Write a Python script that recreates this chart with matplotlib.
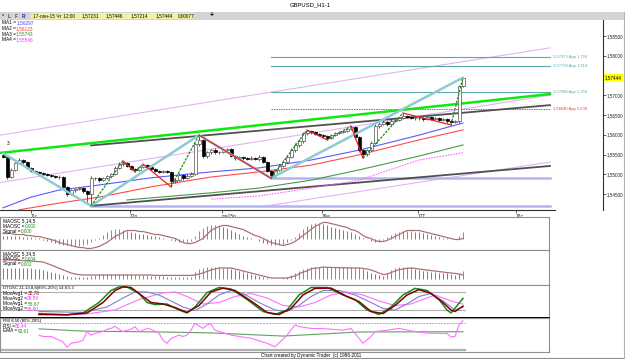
import numpy as np
import matplotlib.pyplot as plt
from matplotlib.patches import Rectangle
from matplotlib.lines import Line2D

plt.rcParams['font.family'] = ['Liberation Sans', 'DejaVu Sans']

W, H = 625, 359

# ---------------- price data, GBPUSD H1, bars 0..115 ----------------
first_open = 1.5549
closes = [1.5544, 1.5493, 1.5511, 1.5528, 1.5536, 1.5531, 1.5516, 1.5508, 1.5506, 1.5503,
          1.5501, 1.5498, 1.5496, 1.5493, 1.5493, 1.5468, 1.5450, 1.5460, 1.5463, 1.5465,
          1.5458, 1.5450, 1.5490, 1.5490, 1.5485, 1.5490, 1.5496, 1.5501, 1.5516, 1.5526,
          1.5528, 1.5521, 1.5513, 1.5511, 1.5518, 1.5523, 1.5518, 1.5513, 1.5508, 1.5506,
          1.5508, 1.5506, 1.5483, 1.5485, 1.5498, 1.5490, 1.5496, 1.5501, 1.5577, 1.5587,
          1.5546, 1.5556, 1.5561, 1.5556, 1.5556, 1.5561, 1.5564, 1.5546, 1.5541, 1.5544,
          1.5541, 1.5539, 1.5541, 1.5539, 1.5544, 1.5531, 1.5508, 1.5498, 1.5511, 1.5521,
          1.5531, 1.5544, 1.5561, 1.5574, 1.5584, 1.5604, 1.5610, 1.5607, 1.5602, 1.5599,
          1.5597, 1.5592, 1.5599, 1.5604, 1.5607, 1.5610, 1.5615, 1.5620, 1.5594, 1.5561,
          1.5551, 1.5561, 1.5579, 1.5622, 1.5627, 1.5632, 1.5627, 1.5635, 1.5637, 1.5642,
          1.5648, 1.5645, 1.5642, 1.5642, 1.5642, 1.5640, 1.5645, 1.5640, 1.5642, 1.5637,
          1.5640, 1.5635, 1.5632, 1.5635, 1.57231, 1.57444]
highs = [1.5553, 1.5547, 1.5515, 1.5532, 1.5540, 1.5539, 1.5533, 1.5519, 1.5511, 1.5509,
         1.5506, 1.5504, 1.5501, 1.5499, 1.5497, 1.5495, 1.5470, 1.5463, 1.5466, 1.5468,
         1.5467, 1.5460, 1.5496, 1.5494, 1.5493, 1.5493, 1.5499, 1.5504, 1.5520, 1.5530,
         1.5534, 1.5531, 1.5523, 1.5516, 1.5521, 1.5526, 1.5526, 1.5520, 1.5516, 1.5511,
         1.5511, 1.5510, 1.5508, 1.5490, 1.5502, 1.5500, 1.5500, 1.5506, 1.5580, 1.5599,
         1.5590, 1.5560, 1.5565, 1.5566, 1.5560, 1.5564, 1.5567, 1.5566, 1.5549, 1.5547,
         1.5547, 1.5544, 1.5545, 1.5544, 1.5549, 1.5547, 1.5534, 1.5510, 1.5514, 1.5525,
         1.5535, 1.5548, 1.5566, 1.5578, 1.5588, 1.5608, 1.5612, 1.5611, 1.5609, 1.5605,
         1.5601, 1.5599, 1.5602, 1.5607, 1.5610, 1.5613, 1.5618, 1.5622, 1.5621, 1.5597,
         1.5564, 1.5565, 1.5583, 1.5626, 1.5632, 1.5637, 1.5636, 1.5639, 1.5641, 1.5646,
         1.5655, 1.5651, 1.5648, 1.5646, 1.5646, 1.5645, 1.5648, 1.5648, 1.5645, 1.5644,
         1.5643, 1.5642, 1.5638, 1.5638, 1.5725, 1.57446]
lows = [1.5540, 1.5488, 1.5490, 1.5508, 1.5525, 1.5527, 1.5513, 1.5505, 1.5503, 1.5500,
        1.5498, 1.5495, 1.5493, 1.5490, 1.5489, 1.5465, 1.5444, 1.5447, 1.5456, 1.5459,
        1.5452, 1.5431, 1.5420, 1.5485, 1.5481, 1.5482, 1.5487, 1.5493, 1.5498, 1.5513,
        1.5522, 1.5518, 1.5510, 1.5506, 1.5508, 1.5515, 1.5515, 1.5510, 1.5505, 1.5502,
        1.5503, 1.5502, 1.5468, 1.5478, 1.5482, 1.5486, 1.5487, 1.5493, 1.5498, 1.5572,
        1.5541, 1.5542, 1.5552, 1.5552, 1.5551, 1.5553, 1.5558, 1.5543, 1.5537, 1.5538,
        1.5537, 1.5535, 1.5536, 1.5535, 1.5533, 1.5528, 1.5505, 1.5490, 1.5494, 1.5507,
        1.5518, 1.5528, 1.5540, 1.5557, 1.5570, 1.5580, 1.5600, 1.5603, 1.5599, 1.5596,
        1.5593, 1.5587, 1.5589, 1.5596, 1.5601, 1.5604, 1.5607, 1.5612, 1.5590, 1.5556,
        1.5541, 1.5547, 1.5558, 1.5576, 1.5618, 1.5624, 1.5623, 1.5624, 1.5632, 1.5634,
        1.5639, 1.5642, 1.5639, 1.5638, 1.5638, 1.5636, 1.5637, 1.5637, 1.5637, 1.5634,
        1.5634, 1.5631, 1.5625, 1.5629, 1.5630, 1.57214]
opens = [first_open] + closes[:-1]

# moving averages (read at a few bars)
ma1_bar = [0, 7, 14, 22, 37, 52, 64, 77, 89, 104, 115]
ma1_val = [1.5415, 1.5442, 1.5460, 1.5470, 1.5491, 1.5506, 1.5516, 1.5536, 1.5561, 1.5599, 1.56297]
ma2_bar = [4, 14, 24, 37, 52, 64, 77, 89, 104, 115]
ma2_val = [1.5410, 1.5427, 1.5442, 1.5468, 1.5493, 1.5506, 1.5523, 1.5549, 1.5587, 1.56123]
ma3_bar = [31, 52, 64, 77, 89, 104, 115]
ma3_val = [1.5435, 1.5453, 1.5465, 1.5485, 1.5511, 1.5546, 1.55743]
ma4_bar = [52, 64, 77, 89, 104, 115]
ma4_val = [1.5437, 1.5445, 1.5465, 1.5485, 1.5536, 1.55546]

# swing pivots
big_zz_bar = [0, 22, 49, 67, 115]
big_zz_val = [1.5553, 1.5420, 1.5599, 1.5490, 1.57446]
small_zz_bar = [22, 30, 33, 35, 42, 49, 67, 76, 81, 87, 90, 100, 112, 115]
small_zz_val = [1.5420, 1.5534, 1.5506, 1.5526, 1.5468, 1.5599, 1.5490, 1.5612,
                1.5587, 1.5622, 1.5541, 1.5655, 1.5625, 1.57446]

# trend / channel lines: (bar0, bar1), (price0, price1)
green_line = ((-0.75, 136.75), (1.5554, 1.5703))
gray_upper = ((22, 136.75), (1.5573, 1.5675))
gray_lower = ((22, 136.75), (1.5420, 1.5521))
pink_top = ((-0.75, 136.75), (1.5599, 1.5820))
pink_mid = ((-0.75, 136.75), (1.5479, 1.5700))
pink_low = ((64, 136.75), (1.5417, 1.5531))
support_lvls = [1.5420, 1.5490]
support_from = [22, 67]

# price projections
proj_val = [1.57973, 1.57739, 1.57088, 1.56645]
proj_txt = ['1,57973 App 1,750', '1,57739 App 1,618', '1,57088 App 1,250', '1,56645 App 1,000']

price_ticks = [1.545, 1.550, 1.555, 1.560, 1.565, 1.570, 1.575, 1.580, 1.585]
last_price = 1.57444
date_pos = [7.0, 31.75, 54.75, 79.75, 103.75, 128.25]
date_lbl = ['11r', '12p', 'ma15p', '16w', '17T', '18c']

# ---------------- MAOSC 5,14,5 (units 0.0001) ----------------
osc1_hist = [9, 9, 9, 9, 9, 6, 6, 6, 3, 3,
             -3, -6, -9, -12, -15, -18, -18, -21, -21, -21,
             -18, -15, -9, -3, 3, 12, 21, 27, 30, 30,
             27, 24, 21, 18, 15, 15, 12, 9, 9, 6,
             3, 0, -3, -6, -9, -9, -9, -6, 9, 24,
             33, 39, 42, 42, 39, 36, 33, 27, 21, 15,
             9, 6, 3, 0, -6, -12, -15, -18, -18, -18,
             -15, -9, -3, 6, 18, 30, 39, 45, 48, 48,
             45, 42, 36, 33, 30, 27, 24, 21, 15, 9,
             3, 0, -6, -9, -9, -3, 6, 12, 18, 21,
             24, 24, 24, 21, 21, 18, 15, 12, 9, 6,
             3, 3, 0, 0, 9, 21]
osc1_sig = [15, 15, 15, 12, 12, 12, 9, 9, 6, 6,
            3, 0, -3, -6, -12, -15, -18, -21, -24, -27,
            -27, -30, -30, -27, -24, -18, -12, -3, 6, 12,
            18, 24, 24, 24, 21, 21, 18, 15, 12, 12,
            9, 6, 3, 0, -6, -12, -15, -15, -12, -6,
            0, 12, 24, 30, 36, 39, 39, 36, 33, 30,
            27, 21, 15, 9, 6, 0, -6, -12, -15, -18,
            -21, -18, -15, -9, 0, 9, 18, 27, 36, 42,
            48, 48, 45, 42, 39, 36, 33, 27, 24, 18,
            9, 3, 0, -6, -9, -9, -6, 0, 6, 12,
            18, 24, 24, 24, 24, 21, 18, 15, 12, 9,
            6, 3, 0, -3, -3, 0]

# ---------------- MAOSC 5,34,5 (units 0.0001) ----------------
osc2_hist = [55, 55, 55, 55, 55, 55, 55, 55, 50, 50,
             45, 40, 35, 30, 25, 20, 15, 10, 10, 10,
             10, 10, 15, 20, 25, 25, 25, 25, 25, 25,
             25, 25, 25, 20, 20, 20, 20, 15, 15, 15,
             15, 10, 10, 10, 10, 10, 10, 10, 35, 50,
             55, 60, 60, 60, 60, 55, 55, 50, 45, 40,
             35, 30, 25, 20, 15, 10, 5, 0, 0, 0,
             5, 10, 20, 30, 40, 50, 55, 60, 60, 60,
             60, 62, 62, 62, 62, 62, 60, 60, 60, 58,
             50, 40, 30, 25, 18, 15, 30, 45, 55, 60,
             62, 62, 62, 50, 46, 42, 40, 37, 34, 32,
             30, 28, 25, 22, 24, 40]
osc2_sig = [95, 95, 95, 94, 93, 92, 91, 90, 88, 87,
            85, 78, 70, 62, 54, 46, 38, 30, 25, 22,
            20, 20, 20, 20, 20, 20, 20, 20, 20, 20,
            20, 20, 20, 20, 20, 20, 20, 20, 18, 18,
            18, 18, 18, 18, 18, 18, 18, 18, 20, 25,
            30, 38, 45, 50, 55, 55, 55, 55, 50, 45,
            40, 35, 30, 25, 20, 15, 10, 5, 5, 5,
            5, 5, 10, 15, 25, 35, 40, 50, 55, 55,
            60, 58, 58, 57, 57, 56, 56, 55, 55, 55,
            53, 50, 45, 38, 30, 22, 25, 32, 40, 46,
            50, 53, 55, 53, 50, 47, 45, 42, 40, 37,
            35, 32, 30, 28, 25, 20]

# ---------------- DTOSC (percent) ----------------
fast1_bar = [9, 16, 20, 24, 27, 29, 31, 34, 36, 38, 41, 44, 46, 48, 51, 54, 57, 61, 65, 68,
             71, 74, 77, 81, 85, 88, 91, 94, 97, 100, 103, 106, 109, 111, 112, 115]
fast1_val = [8, 4, 10, 45, 85, 97, 97, 75, 45, 38, 40, 20, 10, 30, 78, 95, 90, 55, 15, 5,
             20, 70, 95, 95, 70, 55, 20, 5, 30, 70, 92, 85, 55, 20, 10, 58.67]
fast2_bar = [9, 16, 21, 25, 28, 30, 32, 35, 37, 40, 43, 46, 49, 52, 55, 58, 62, 66, 69, 72,
             75, 78, 82, 86, 89, 92, 95, 98, 101, 104, 107, 110, 112, 113, 115]
fast2_val = [5, 4, 10, 45, 85, 97, 95, 65, 45, 40, 28, 12, 35, 80, 93, 85, 50, 12, 5, 25,
             70, 92, 93, 65, 48, 15, 8, 35, 70, 88, 75, 45, 20, 15, 32.78]
slow1_bar = [9, 20, 26, 30, 33, 36, 39, 42, 45, 48, 51, 54, 57, 60, 64, 68, 71, 74, 77, 80,
             84, 88, 92, 95, 98, 101, 104, 107, 110, 113, 115]
slow1_val = [15, 12, 30, 60, 80, 80, 70, 50, 30, 18, 40, 70, 85, 75, 45, 20, 15, 35, 65, 85,
             85, 70, 45, 25, 20, 40, 65, 75, 50, 20, 29.59]
slow2_bar = [9, 20, 28, 34, 40, 43, 46, 50, 54, 58, 62, 66, 70, 74, 78, 82, 86, 90, 94, 98,
             102, 106, 108, 112, 115]
slow2_val = [5, 5, 20, 55, 77, 80, 65, 40, 45, 65, 75, 60, 35, 30, 45, 70, 80, 70, 50, 35,
             40, 60, 70, 50, 39.80]

# ---------------- RSI ----------------
rsi_bar = [9, 10, 12, 15, 16, 17, 19, 20, 21, 22, 23, 25, 26, 27, 28, 29, 30, 31, 32, 33,
           34, 35, 36, 37, 39, 40, 41, 42, 44, 45, 46, 47, 48, 50, 51, 52, 53, 57, 62, 66,
           68, 71, 73, 74, 77, 81, 85, 87, 89, 90, 92, 93, 96, 99, 103, 107, 111, 112, 113, 114,
           115]
rsi_val = [53, 50, 50, 38, 26, 35, 38, 42, 61, 53, 57, 61, 66, 68, 73, 66, 61, 64, 66, 72,
           61, 64, 68, 66, 57, 42, 35, 46, 53, 50, 53, 64, 79, 68, 76, 78, 64, 53, 46, 35,
           27, 53, 76, 72, 68, 67, 64, 68, 46, 35, 50, 61, 64, 68, 61, 57, 57, 49, 50, 76,
           85.44]
ema_bar = [9, 20, 40, 52, 70, 89, 115]
ema_val = [67, 62, 60, 58, 51, 60, 60.61]


# =========================================================================
fig = plt.figure(figsize=(W / 100, H / 100), dpi=100)
fig.patch.set_facecolor('white')
renderer = fig.canvas.get_renderer()

FS = 3.4          # the chart uses a tiny bitmap font
GREEN_TXT = '#209020'
MAG_TXT = '#ff30ff'


def px_axes(x0, y0, x1, y1):
    ax = fig.add_axes([x0 / W, 1 - y1 / H, (x1 - x0) / W, (y1 - y0) / H])
    ax.set_facecolor('white')
    return ax


def ptext(x, y, s, size=FS, color='black', **kw):
    return fig.text(x / W, 1 - y / H, s, fontsize=size, color=color, va='center', **kw)


def pair(x, y, label, value, color, size=FS):
    # label in black, value glued right after it in its own colour
    t = ptext(x, y, label, size=size)
    x1 = t.get_window_extent(renderer).x1 * W / fig.bbox.width
    ptext(x1 + 0.2, y, value, size=size, color=color)


def frame(ax, color='#909090'):
    ax.set_xticks([])
    ax.set_yticks([])
    for sp in ax.spines.values():
        sp.set_color(color)
        sp.set_linewidth(0.8)


# window chrome
fig.add_artist(Rectangle((0, 1 - 19.5 / H), 1, 7.5 / H, transform=fig.transFigure,
                         facecolor='#d4d4d4', edgecolor='none'))
fig.add_artist(Rectangle((31 / W, 1 - 19 / H), 162 / W, 6.5 / H, transform=fig.transFigure,
                         facecolor='#f2f2a6', edgecolor='none'))
fig.add_artist(Line2D([0, 1], [1 - 358 / H] * 2, transform=fig.transFigure, color='#909090', lw=0.8))
fig.add_artist(Line2D([624 / W] * 2, [1 - 358 / H, 1 - 12 / H], transform=fig.transFigure,
                      color='#b0b0b0', lw=0.8))
ptext(310, 5, 'GBPUSD_H1-1', size=4.2, ha='center')
ptext(3, 16, '\u2022', size=5, color='#10a010', ha='center')
ptext(8, 16, 'L', color='#404040', weight='bold')
ptext(15, 16, 'F', color='#804020', weight='bold')
ptext(22, 16, 'R', color='#2020c0', weight='bold')
ptext(33, 16, '17-сен-15 Чт 12:00', size=3.4)
for xx, s in zip([82, 106, 131, 156, 178], ['1,57231', '1,57446', '1,57214', '1,57444', '0,00077']):
    ptext(xx, 16, s, size=3.4)
ptext(212, 16, '+', size=5, ha='center', weight='bold')
ptext(311, 355, 'Chart created by Dynamic Trader  (c) 1996-2011', size=3.3, ha='center')

# ---------------- main price panel ----------------
ax = px_axes(0, 20, 603, 210)
ax.set_xlim(-0.75, 150)
ax.set_ylim(1.54095, 1.58905)
for s in ['left', 'top']:
    ax.spines[s].set_visible(False)
ax.spines['right'].set_color('#303030')
ax.spines['right'].set_linewidth(0.8)
ax.spines['bottom'].set_color('#303030')
ax.spines['bottom'].set_linewidth(0.8)
ax.spines['bottom'].set_bounds(-0.75, 138)

ax.yaxis.tick_right()
ax.set_yticks(price_ticks)
# the label next to the last price is covered by the yellow price box
ax.set_yticklabels(['' if abs(v - last_price) < 0.001 else f'{v:.5f}'.replace('.', ',')
                    for v in price_ticks])
ax.tick_params(axis='y', labelsize=3.3, length=2, width=0.5, pad=1.0, colors='#202020')
ax.set_xticks(date_pos)
ax.set_xticklabels(date_lbl)
ax.tick_params(axis='x', labelsize=3.4, length=2.5, width=0.5, pad=0.5, colors='#202020')
for lbl in ax.get_xticklabels():
    lbl.set_ha('left')

# channels and trend lines
for (xs, ys) in [pink_top, pink_mid, pink_low]:
    ax.plot(xs, ys, color='#e2b4f0', lw=0.8, zorder=1)
for lvl, x0 in zip(support_lvls, support_from):
    ax.plot([x0, 136.75], [lvl, lvl], color='#b4b4f4', lw=1.8, zorder=1)
ax.plot(*gray_upper, color='#505050', lw=1.3, zorder=2)
ax.plot(*gray_lower, color='#505050', lw=1.3, zorder=2)
ax.plot(*green_line, color='#10e810', lw=1.8, zorder=2)

# projections
for v, t in zip(proj_val, proj_txt):
    is_base = t.endswith('1,000')
    col = '#e04040' if is_base else '#5aa8a8'
    ax.plot([67, 136.75], [v, v], color=col, lw=0.8 if not is_base else 0.7,
            ls=(0, (1.5, 1)) if is_base else '-', zorder=1)
    ax.text(137.6, v, t, fontsize=3.0, color=col, va='center')

# moving averages
ax.plot(ma1_bar, ma1_val, color='#5a5aff', lw=0.8, zorder=2)
ax.plot(ma2_bar, ma2_val, color='#ff4a4a', lw=0.8, zorder=2)
ax.plot(ma3_bar, ma3_val, color='#4a9a4a', lw=0.8, zorder=2)
ax.plot(ma4_bar, ma4_val, color='#ff66ff', lw=0.8, ls=(0, (1.5, 1)), zorder=2)

# candles
bars = np.arange(len(closes))
o = np.array(opens)
c = np.array(closes)
up = c >= o
ax.vlines(bars, lows, highs, color='#404040', lw=0.6, zorder=3)
ax.bar(bars[up], np.maximum(c - o, 0.00004)[up], bottom=o[up], width=0.75,
       color='white', edgecolor='#505050', lw=0.5, zorder=4)
ax.bar(bars[~up], (c - o)[~up], bottom=o[~up], width=0.75,
       color='black', edgecolor='black', lw=0.5, zorder=4)

# swings
ax.plot(big_zz_bar, big_zz_val, color='#8ccbd4', lw=1.8, zorder=5, solid_capstyle='round')
for k in range(len(small_zz_bar) - 1):
    rising = small_zz_val[k + 1] > small_zz_val[k]
    ax.plot(small_zz_bar[k:k + 2], small_zz_val[k:k + 2],
            color='#1a8a1a' if rising else '#f02020', lw=0.9,
            ls=(0, (2, 1)) if rising else '-', zorder=6)
ax.text(1.0, 1.5579, '3', fontsize=FS, color='black', va='center')

# current price
ax.annotate(f'{last_price:.5f}'.replace('.', ','), xy=(1, last_price),
            xycoords=('axes fraction', 'data'),
            xytext=(1.4, 0), textcoords='offset points', fontsize=3.3, va='center',
            bbox=dict(boxstyle='square,pad=0.2', fc='#ffff00', ec='none'))

# MA legend
for k, (name, val, col) in enumerate([('MA1 =', '1,56297', '#4040ff'), ('MA2 =', '1,56123', '#ff3030'),
                                      ('MA3 =', '1,55743', '#309030'), ('MA4 =', '1,55546', MAG_TXT)]):
    pair(2, 23 + 5.5 * k, name, val, col)

# ---------------- MAOSC 5,14,5 ----------------
ax1 = px_axes(0, 217, 549, 250)
ax1.set_xlim(-0.75, 136.5)
ax1.set_ylim(-34.5, 64.5)
frame(ax1)
h1 = np.array(osc1_hist)
s1 = np.array(osc1_sig)
ax1.vlines(bars, 0, h1, colors=np.where(h1 >= s1, '#58b058', '#f04848'), lw=0.7)
ax1.plot(bars, s1, color='#b07070', lw=0.9)
ptext(3, 221, 'MAOSC 5,14,5')
pair(3, 226, 'MAOSC =', '0,002', GREEN_TXT)
pair(3, 231, 'Signal =', '0,000', GREEN_TXT)

# ---------------- MAOSC 5,34,5 ----------------
ax2 = px_axes(0, 250, 549, 285)
ax2.set_xlim(-0.75, 136.5)
ax2.set_ylim(-30, 145)
frame(ax2)
h2 = np.array(osc2_hist)
s2 = np.array(osc2_sig)
ax2.vlines(bars, 0, h2, colors=np.where(h2 >= s2, '#58b058', '#f04848'), lw=0.7)
ax2.plot(bars, s2, color='#b07070', lw=0.9)
ptext(3, 254, 'MAOSC 5,34,5')
pair(3, 259, 'MAOSC =', '0,004', GREEN_TXT)
pair(3, 264, 'Signal =', '0,002', GREEN_TXT)

# ---------------- DTOSC ----------------
ax3 = px_axes(0, 285, 549, 318)
ax3.set_xlim(-0.75, 136.5)
ax3.set_ylim(-6.7, 103.3)
frame(ax3)
ax3.spines['bottom'].set_color('black')
ax3.spines['bottom'].set_linewidth(1.4)
for lvl in [80, 20]:
    ax3.axhline(lvl, xmax=(115.5 + 0.75) / 137.25, color='#b0b0b0', lw=0.8)
ax3.plot(slow2_bar, slow2_val, color='#ff70ff', lw=0.8)
ax3.plot(slow1_bar, slow1_val, color='#8080d0', lw=0.8)
ax3.plot(fast1_bar, fast1_val, color='#1a8a1a', lw=1.1)
ax3.plot(fast2_bar, fast2_val, color='#800000', lw=1.1)
ptext(3, 288, 'DTOSC 21,13,8,8(80%-20%) 14,8,5,3', size=3.1)
for k, (name, val, col) in enumerate([('MovAvg1 =', '32,78', '#800000'), ('MovAvg2 =', '29,59', MAG_TXT),
                                      ('MovAvg1 =', '58,67', GREEN_TXT), ('MovAvg2 =', '39,80', MAG_TXT)]):
    pair(3, 293 + 5.2 * k, name, val, col)

# ---------------- RSI ----------------
ax4 = px_axes(0, 318, 549, 352)
ax4.set_xlim(-0.75, 136.5)
ax4.set_ylim(15.6, 91.1)
frame(ax4)
ax4.axhline(80, xmax=(115.5 + 0.75) / 137.25, color='#b0b0b0', lw=0.7, ls=(0, (2, 1)))
ax4.axhline(20, xmax=(115.5 + 0.75) / 137.25, color='#b0b0b0', lw=1.6)
ax4.plot(ema_bar, ema_val, color='#60a060', lw=0.8)
ax4.plot(rsi_bar, rsi_val, color='#ff70ff', lw=0.8)
ptext(3, 321, 'RSI 8,50 (80%-20%)', size=3.1)
pair(3, 326, 'RSI =', '85,44', MAG_TXT)
pair(3, 331, 'EMA =', '60,61', GREEN_TXT)

fig.savefig('out.png', dpi=100, facecolor='white')
